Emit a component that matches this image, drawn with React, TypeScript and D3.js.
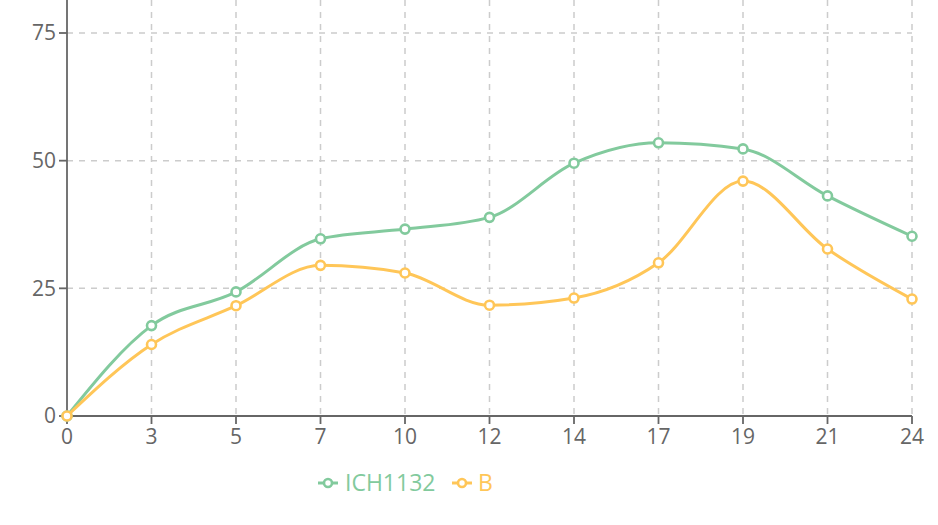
import React from "react";
import * as d3 from "d3";

const categories = ["0", "3", "5", "7", "10", "12", "14", "17", "19", "21", "24"];
const seriesA = [0, 17.7, 24.3, 34.7, 36.6, 38.9, 49.5, 53.5, 52.3, 43.1, 35.2];
const seriesB = [0, 14.0, 21.6, 29.5, 28.0, 21.7, 23.1, 30.0, 46.0, 32.7, 22.9];
const yTicks = [0, 25, 50, 75];
const seriesNames = ["ICH1132", "B"];
const colors = ["#82ca9d", "#ffc658"];

const W = 938;
const H = 525;
const left = 67;
const right = 912;
const y0px = 416;
const y75px = 33;

export default function App() {
  const x = d3.scalePoint<string>().domain(categories).range([left, right]);
  const y = d3.scaleLinear().domain([0, 75]).range([y0px, y75px]);
  const line = d3
    .line<number>()
    .x((_, i) => x(categories[i]) as number)
    .y((d) => y(d))
    .curve(d3.curveMonotoneX);
  const font = "'Open Sans', sans-serif";
  const series = [seriesA, seriesB];
  return (
    <svg
      width={W}
      height={H}
      style={{ position: "absolute", left: 0, top: 0, background: "#fff" }}
      fontFamily={font}
    >
      {/* grid */}
      <g stroke="#ccc" strokeWidth={1.5} strokeDasharray="6 6">
        {yTicks.filter((t) => t > 0).map((t) => (
          <line key={"h" + t} x1={left} x2={right} y1={y(t)} y2={y(t)} />
        ))}
        {categories.filter((_, i) => i > 0).map((c) => (
          <line key={"v" + c} x1={x(c)} x2={x(c)} y1={0} y2={y0px} />
        ))}
      </g>
      {/* axes */}
      <g stroke="#666" strokeWidth={1.8} fill="none">
        <line x1={left} x2={left} y1={0} y2={y0px} />
        <line x1={left} x2={right} y1={y0px} y2={y0px} />
        {yTicks.map((t) => (
          <line key={"yt" + t} x1={left - 8} x2={left} y1={y(t)} y2={y(t)} />
        ))}
        {categories.map((c) => (
          <line key={"xt" + c} x1={x(c)} x2={x(c)} y1={y0px} y2={y0px + 8} />
        ))}
      </g>
      <g fill="#666" fontSize={21}>
        {yTicks.map((t) => (
          <text key={"yl" + t} x={left - 11} y={y(t)} dy="0.35em" textAnchor="end">
            {t}
          </text>
        ))}
        {categories.map((c) => (
          <text key={"xl" + c} x={x(c)} y={y0px + 13} dy="0.71em" textAnchor="middle">
            {c}
          </text>
        ))}
      </g>
      {/* lines */}
      {series.map((s, k) => (
        <g key={"s" + k}>
          <path d={line(s) || ""} fill="none" stroke={colors[k]} strokeWidth={3} />
          {s.map((v, i) => (
            <circle
              key={i}
              cx={x(categories[i])}
              cy={y(v)}
              r={4.5}
              fill="#fff"
              stroke={colors[k]}
              strokeWidth={2.6}
            />
          ))}
        </g>
      ))}
      {/* legend */}
      <g fontSize={23}>
        {[
          { name: seriesNames[0], x0: 318, tx: 345 },
          { name: seriesNames[1], x0: 452, tx: 478 },
        ].map((l, k) => (
          <g key={"lg" + k}>
            <line x1={l.x0} x2={l.x0 + 20} y1={483} y2={483} stroke={colors[k]} strokeWidth={3} />
            <circle cx={l.x0 + 10} cy={483} r={4} fill="#fff" stroke={colors[k]} strokeWidth={2.6} />
            <text x={l.tx} y={483} dy="0.35em" fill={colors[k]}>
              {l.name}
            </text>
          </g>
        ))}
      </g>
    </svg>
  );
}
